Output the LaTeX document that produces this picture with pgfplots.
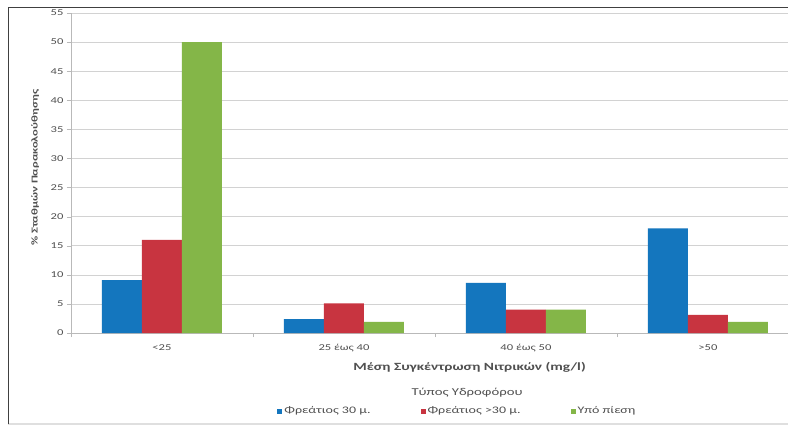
\documentclass[border=0pt]{standalone}
\usepackage{pgfplots}
\pgfplotsset{compat=1.18}
\usepackage{fontspec}
\setmainfont{Carlito}[FakeStretch=1.4]
\definecolor{cblue}{RGB}{20,118,190}
\definecolor{cred}{RGB}{200,52,64}
\definecolor{cgreen}{RGB}{132,182,72}
\definecolor{txt}{RGB}{80,80,80}
\begin{document}
\begin{tikzpicture}[x=1pt,y=1pt]
\fill[white] (0,0) rectangle (788,432);
\draw[gray!25, line width=1.5pt] (8,8) -- (788,8);
\draw[black!75, line width=1pt] (8,8) -- (8,424) -- (788,424);
\begin{axis}[
  at={(71pt,99pt)}, anchor=south west,
  scale only axis, width=717pt, height=320pt,
  xmin=-0.5, xmax=3.44, ymin=0, ymax=55,
  ybar=0pt, bar width=40pt,
  axis lines*=left,
  axis line style={-, gray!55, line width=0.8pt},
  ytick={0,5,...,55},
  ymajorgrids, grid style={gray!35, line width=0.6pt},
  xtick={0,1,2,3},
  xticklabels={<25, 25 έως 40, 40 έως 50, >50},
  major x tick style={draw=none},
  minor xtick={-0.5,0.5,1.5,2.5},
  minor x tick style={gray!55},
  ytick style={gray!55},
  tick align=outside,
  major tick length=4pt, minor tick length=4pt,
  /pgf/number format/assume math mode=true,
  tick label style={font=\fontsize{9}{10}\selectfont, text=txt},
  xticklabel style={yshift=-4pt},
  ylabel={\% Σταθμών Παρακολούθησης},
  ylabel style={at={(axis description cs:-0.05,0.516)}, anchor=center, font=\bfseries\fontsize{9}{10}\selectfont, text=txt},
  xlabel={Μέση Συγκέντρωση Νιτρικών (mg/l)},
  xlabel style={at={(axis description cs:0.556,-0.106)}, anchor=center, font=\bfseries\fontsize{11}{12}\selectfont, text=txt},
  legend style={at={(axis description cs:0.539,-0.244)}, anchor=center, draw=none, fill=none,
    legend columns=3, font=\fontsize{10}{11}\selectfont, text=txt,
    /tikz/every even column/.append style={column sep=48pt}},
  legend image code/.code={\fill[#1] (0pt,-2.5pt) rectangle (5pt,2.5pt);},
]
\addplot[fill=cblue, draw=none] coordinates {(0,9.1) (1,2.4) (2,8.6) (3,18)};
\addplot[fill=cred, draw=none] coordinates {(0,16) (1,5.1) (2,4) (3,3.1)};
\addplot[fill=cgreen, draw=none] coordinates {(0,50) (1,1.9) (2,4) (3,1.9)};
\legend{Φρεάτιος 30 μ., Φρεάτιος >30 μ., Υπό πίεση}
\end{axis}
\node[font=\fontsize{10.5}{11}\selectfont, text=txt] at (467,39) {Τύπος Υδροφόρου};
\pgfresetboundingbox
\useasboundingbox (0,0) rectangle (788,432);
\end{tikzpicture}
\end{document}
